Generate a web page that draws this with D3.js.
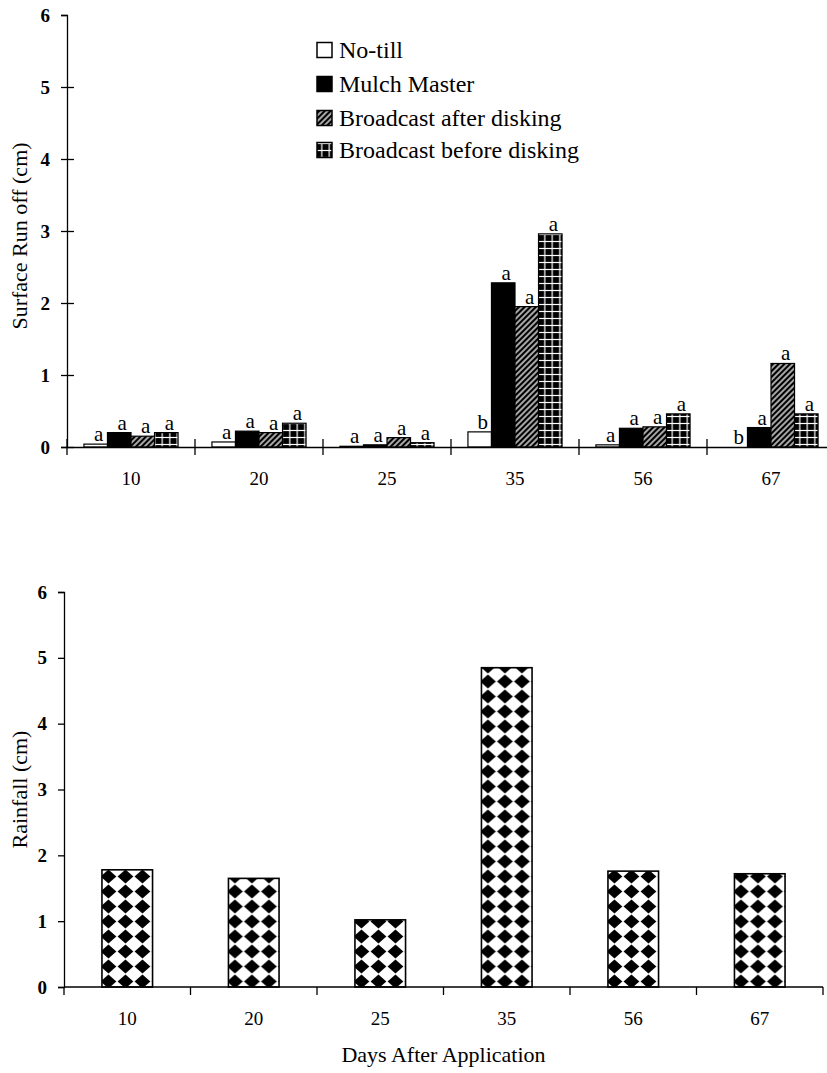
<!DOCTYPE html>
<html><head><meta charset="utf-8">
<script src="https://cdn.jsdelivr.net/npm/d3@7"></script>
<style>body{margin:0;background:#fff}svg{display:block}</style>
</head><body>
<svg id="c" width="827" height="1073"></svg>
<script>
// ---------- data ----------
const days = ["10", "20", "25", "35", "56", "67"];
const seriesNames = ["No-till", "Mulch Master", "Broadcast after disking", "Broadcast before disking"];
const noTill = [0.04, 0.07, 0.01, 0.21, 0.03, 0.0];
const mulchMaster = [0.20, 0.22, 0.03, 2.28, 0.26, 0.27];
const broadcastAfter = [0.15, 0.20, 0.13, 1.95, 0.28, 1.16];
const broadcastBefore = [0.20, 0.33, 0.06, 2.96, 0.46, 0.46];
const noTillLetters = ["a", "a", "a", "b", "a", "b"];
const mulchLetters = ["a", "a", "a", "a", "a", "a"];
const afterLetters = ["a", "a", "a", "a", "a", "a"];
const beforeLetters = ["a", "a", "a", "a", "a", "a"];
const rainfall = [1.78, 1.65, 1.02, 4.85, 1.76, 1.72];
const yTicks = [0, 1, 2, 3, 4, 5, 6];

const seriesValues = [noTill, mulchMaster, broadcastAfter, broadcastBefore];
const seriesLetters = [noTillLetters, mulchLetters, afterLetters, beforeLetters];
const seriesFill = ["#fff", "#000", "url(#pAfter)", "url(#pBefore)"];

const FONT = "'Liberation Serif','Times New Roman',serif";
const svg = d3.select("#c");
const defs = svg.append("defs");

// patterns
const pA = defs.append("pattern").attr("id", "pAfter").attr("patternUnits", "userSpaceOnUse")
  .attr("width", 4).attr("height", 4).attr("patternTransform", "rotate(45)");
pA.append("rect").attr("width", 4).attr("height", 4).attr("fill", "#000");
pA.append("line").attr("x1", 2).attr("x2", 2).attr("y1", -1).attr("y2", 5)
  .attr("stroke", "#fff").attr("stroke-width", 1.3);

const pB = defs.append("pattern").attr("id", "pBefore").attr("patternUnits", "userSpaceOnUse")
  .attr("width", 7.5).attr("height", 7).attr("x", 1).attr("y", 0);
pB.append("rect").attr("width", 7.5).attr("height", 7).attr("fill", "#000");
pB.append("line").attr("x1", 3.75).attr("x2", 3.75).attr("y1", 0).attr("y2", 7)
  .attr("stroke", "#fff").attr("stroke-width", 1.2);
pB.append("line").attr("x1", 0).attr("x2", 7.5).attr("y1", 3.5).attr("y2", 3.5)
  .attr("stroke", "#fff").attr("stroke-width", 1.2);

const pD = defs.append("pattern").attr("id", "pDiamond").attr("patternUnits", "userSpaceOnUse")
  .attr("width", 17).attr("height", 15).attr("x", -2).attr("y", 2);
pD.append("rect").attr("width", 17).attr("height", 15).attr("fill", "#fff");
pD.append("polygon").attr("points", "8.5,0.6 16.4,7.5 8.5,14.4 0.6,7.5").attr("fill", "#000");

// ---------- top chart ----------
const x0 = d3.scaleBand().domain(days).range([67, 835]);
const x1 = d3.scaleBand().domain(seriesNames).range([0, x0.bandwidth()]).paddingOuter(0.72);
const yT = d3.scaleLinear().domain([0, 6]).range([447, 15]);

const topG = svg.append("g");

// bars
seriesNames.forEach((name, si) => {
  const g = topG.append("g");
  g.selectAll("rect").data(days).join("rect")
    .attr("x", d => x0(d) + x1(name))
    .attr("y", (d, i) => yT(seriesValues[si][i]))
    .attr("width", x1.bandwidth())
    .attr("height", (d, i) => yT(0) - yT(seriesValues[si][i]))
    .attr("fill", seriesFill[si])
    .attr("stroke", "#000").attr("stroke-width", 1.2);
  g.selectAll("text").data(days).join("text")
    .attr("x", d => x0(d) + x1(name) + x1.bandwidth() / 2 + 3)
    .attr("y", (d, i) => yT(seriesValues[si][i]) - 3)
    .attr("text-anchor", "middle")
    .attr("font-family", FONT).attr("font-size", 21)
    .text((d, i) => seriesLetters[si][i]);
});

// y axis
const yAxTop = topG.append("g").attr("transform", "translate(67,0)")
  .call(d3.axisLeft(yT).tickValues(yTicks).tickFormat(d3.format("d")).tickSize(6).tickSizeOuter(6).tickPadding(11));
yAxTop.selectAll(".tick line").filter(d => d < 6).attr("x1", 7);
// x axis
const xAxTop = topG.append("g").attr("transform", "translate(0,447)")
  .call(d3.axisBottom(x0).tickSize(0).tickSizeOuter(0).tickPadding(25));
xAxTop.selectAll(".boundary").data(days.map(d => x0(d)).concat([x0.range()[1]])).join("line")
  .attr("class", "boundary")
  .attr("x1", d => d).attr("x2", d => d).attr("y1", -8).attr("y2", 8)
  .attr("stroke", "#000").attr("stroke-width", 1.3);

topG.append("text")
  .attr("transform", "translate(27," + ((yT(0) + yT(6)) / 2 + 5) + ") rotate(-90)")
  .attr("text-anchor", "middle").attr("font-family", FONT).attr("font-size", 22)
  .text("Surface Run off (cm)");

// legend
const legend = topG.append("g").attr("transform", "translate(317,0)");
const legendY = [50, 84, 118, 150];
seriesNames.forEach((name, si) => {
  legend.append("rect").attr("x", 0).attr("y", legendY[si] - 7.5).attr("width", 15).attr("height", 15)
    .attr("fill", seriesFill[si]).attr("stroke", "#000").attr("stroke-width", 1.5);
  legend.append("text").attr("x", 22).attr("y", legendY[si]).attr("dy", "0.35em")
    .attr("font-family", FONT).attr("font-size", 24).text(name);
});

// ---------- bottom chart ----------
const xB = d3.scaleBand().domain(days).range([64, 823]).paddingInner(0.6).paddingOuter(0.3);
const yB = d3.scaleLinear().domain([0, 6]).range([987, 592]);
const bot = svg.append("g");

const bars = bot.selectAll("g.bar").data(days).join("g").attr("class", "bar")
  .attr("transform", d => "translate(" + xB(d) + "," + yB(0) + ")");
bars.append("rect")
  .attr("x", 0)
  .attr("y", (d, i) => yB(rainfall[i]) - yB(0))
  .attr("width", xB.bandwidth())
  .attr("height", (d, i) => yB(0) - yB(rainfall[i]))
  .attr("fill", "url(#pDiamond)")
  .attr("stroke", "#000").attr("stroke-width", 1.6);

const yAxB = bot.append("g").attr("transform", "translate(64,0)")
  .call(d3.axisLeft(yB).tickValues(yTicks).tickFormat(d3.format("d")).tickSize(6).tickSizeOuter(6).tickPadding(11));
const xAxB = bot.append("g").attr("transform", "translate(0,987)")
  .call(d3.axisBottom(xB).tickSize(0).tickSizeOuter(0).tickPadding(25));
xAxB.select(".domain").attr("d", "M64,0H823");
const stepB = xB.step();
xAxB.selectAll(".boundary").data(d3.range(days.length + 1)).join("line")
  .attr("class", "boundary")
  .attr("x1", i => xB.range()[0] + i * stepB).attr("x2", i => xB.range()[0] + i * stepB)
  .attr("y1", 0).attr("y2", 8)
  .attr("stroke", "#000").attr("stroke-width", 1.3);

bot.append("text")
  .attr("transform", "translate(27," + ((yB(0) + yB(6)) / 2) + ") rotate(-90)")
  .attr("text-anchor", "middle").attr("font-family", FONT).attr("font-size", 22)
  .text("Rainfall (cm)");
bot.append("text").attr("x", (64 + 823) / 2).attr("y", 1062)
  .attr("text-anchor", "middle").attr("font-family", FONT).attr("font-size", 22)
  .text("Days After Application");

// axis styling
svg.selectAll(".domain").attr("stroke", "#000").attr("stroke-width", 1.3);
svg.selectAll(".tick line").attr("stroke", "#000").attr("stroke-width", 1.3);
svg.selectAll(".tick text").attr("font-family", FONT).attr("font-size", 19).attr("fill", "#000");
yAxTop.selectAll(".tick text").attr("font-weight", "bold");
yAxB.selectAll(".tick text").attr("font-weight", "bold");
</script>
</body></html>
